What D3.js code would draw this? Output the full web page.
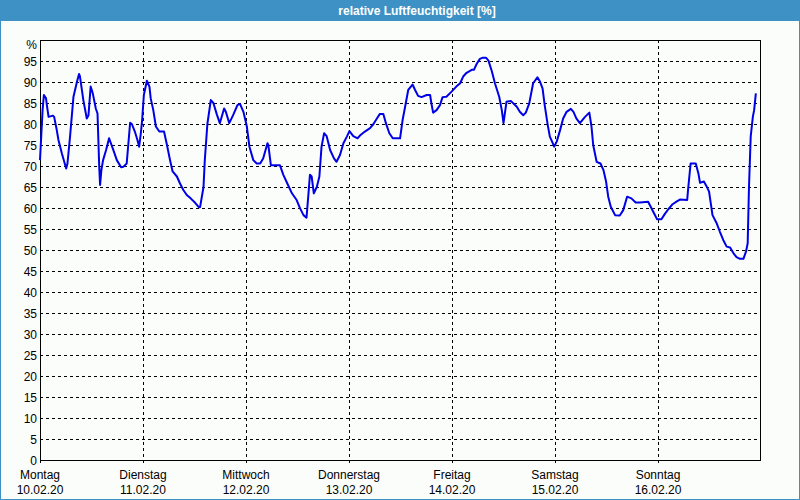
<!DOCTYPE html>
<html><head><meta charset="utf-8">
<script src="https://cdn.jsdelivr.net/npm/d3@7"></script>
<style>html,body{margin:0;padding:0;background:#fff;}svg{display:block;}</style>
</head><body>
<script>
const title = "relative Luftfeuchtigkeit [%]";
const dayNames = ["Montag","Dienstag","Mittwoch","Donnerstag","Freitag","Samstag","Sonntag"];
const dayDates = ["10.02.20","11.02.20","12.02.20","13.02.20","14.02.20","15.02.20","16.02.20"];
const yTicks = d3.range(0, 100, 5);
// hours since Monday 00:00
const hours = [0,0.6,0.9,1.4,1.6,2.0,3.0,3.3,3.9,4.3,5.1,6.1,6.4,7.0,7.8,8.6,9.1,9.3,10.1,10.9,11.3,11.8,12.3,13.0,13.4,13.8,14.0,14.3,14.7,15.4,16.1,17.1,17.9,18.9,19.4,20.2,21.0,21.4,22.1,22.7,23.1,23.5,23.8,24.2,24.9,25.5,25.8,26.4,27.0,27.8,28.9,29.5,30.3,30.9,31.9,32.6,33.4,34.2,35.1,36.1,37.0,37.3,38.1,38.4,39.0,39.8,40.4,41.2,41.9,42.9,43.3,44.1,45.0,46.0,46.6,47.4,48.2,48.8,49.7,50.5,51.3,52.0,53.0,53.2,53.8,55.9,56.7,57.6,58.7,59.8,60.6,61.4,62.1,62.5,62.9,63.3,63.8,64.5,65.1,65.6,66.2,66.8,67.6,68.5,69.1,69.9,70.7,71.5,72.1,73.0,74.0,74.7,75.7,76.9,77.7,78.5,79.2,80.0,80.6,81.4,82.2,83.9,84.5,85.0,85.8,86.8,87.4,88.1,88.9,90.1,90.9,91.2,91.6,92.4,93.2,93.8,94.7,95.9,97.0,97.9,98.6,99.4,100.6,101.1,101.8,102.5,103.2,103.9,104.5,105.3,106.0,107.0,107.6,108.0,108.7,109.7,111.1,111.8,112.6,113.2,114.0,114.9,115.9,116.5,117.1,117.6,118.3,118.8,119.5,119.8,120.4,121.2,121.9,122.7,123.7,124.3,125.0,125.8,127.0,128.0,128.5,128.9,129.7,130.6,131.3,131.9,132.4,133.0,134.0,135.1,135.9,136.8,137.8,138.8,139.8,141.7,142.3,143.1,143.8,144.8,145.6,146.4,147.4,148.3,149.1,150.8,151.0,151.6,152.8,153.4,153.8,154.7,155.3,155.9,156.7,157.7,158.4,159.2,160.0,160.8,161.6,162.3,163.1,163.9,164.5,164.9,165.2,165.6,166.1,166.4,166.8];
const humidity = [71.4,83.3,86.9,86.1,84.5,81.7,82,81.7,78.6,76.2,73,69.4,70.6,77,86.5,90,91.9,91.4,85.7,81.3,82.1,88.9,87.3,83.7,82.5,69.8,65.5,69,71.4,73.8,76.6,73.8,71.4,69.7,69.8,70.6,80.3,80,78.2,76.2,74.6,77.8,81,86.9,90.3,88.9,86.1,83.3,79.4,78.2,78.2,75.4,71.4,68.7,67.5,65.9,64.3,63.1,62.3,61.3,60.2,60.2,65,71.4,80,85.7,85,82.3,80.2,83.7,82.9,80.2,82.1,84.5,84.8,82.9,79.4,74.6,71.4,70.6,70.6,71.8,75.4,75,70.2,70.2,67.9,65.9,63.5,61.9,59.9,58.3,57.7,62.7,67.9,67.5,63.5,65,67.5,74.6,77.8,77.1,73.8,71.8,71,72.6,75.4,77,78.3,77.1,76.6,77.4,78.2,79,80,81.3,82.4,82.4,80.2,77.8,76.6,76.6,81,83.7,88.1,89.4,88.1,86.7,86.4,86.9,86.9,84.9,82.7,83.3,84.5,86.4,86.5,87.7,88.9,89.7,91.3,92.2,92.9,92.9,94.4,95.5,95.8,95.8,95.1,92.5,89.7,86.5,83.3,80.2,85.3,85.5,84.1,82.9,82.1,82.7,84.9,89.7,91.1,90.1,88.5,84.5,79.8,77,75.4,74.6,75.8,78.6,81.3,82.9,83.6,82.9,81.3,80.2,81.7,82.7,79.4,75,71,70.6,69,66.3,62.7,60.3,58.3,58.2,59.5,62.7,62.3,61.3,61.3,61.5,60.3,58.7,57.3,57.3,58.6,59.7,60.9,61.5,62,61.9,64.3,70.6,70.6,68.3,66,66.3,65.2,63.9,58.3,56.3,54.4,52.4,50.8,50.6,49.2,48.3,47.9,47.9,49.6,51.6,65,77,81.7,83.3,87.3];

const W = 800, H = 500;
const svg = d3.select("body").append("svg").attr("width", W).attr("height", H);
const blue = "#3d91c4";
svg.append("rect").attr("x",0).attr("y",0).attr("width",W).attr("height",H).attr("fill",blue);
svg.append("rect").attr("x",1).attr("y",21).attr("width",W-2).attr("height",H-22).attr("fill","#fbfdfb");
svg.append("text").attr("x",417).attr("y",14.5).attr("text-anchor","middle")
  .attr("font-family","'Liberation Sans', Arial, sans-serif").attr("font-size",12).attr("font-weight","bold")
  .attr("fill","#fff").text(title);

const L = 40, R = 761, T = 40, B = 460;
const x = d3.scaleLinear().domain([0, 168]).range([L, R]);
const y = d3.scaleLinear().domain([0, 100]).range([B, T]);
const font = "'Liberation Sans', Arial, sans-serif";

// horizontal grid
const g = svg.append("g");
g.selectAll(".hg").data(yTicks.filter(d => d > 0)).enter().append("line")
  .attr("x1", L).attr("x2", R-1).attr("y1", d => y(d)+0.5).attr("y2", d => y(d)+0.5)
  .attr("stroke","#000").attr("stroke-width",1).attr("stroke-dasharray","3,3");
// vertical grid
g.selectAll(".vg").data(d3.range(1, 7)).enter().append("line")
  .attr("x1", d => Math.round(x(d*24))+0.5).attr("x2", d => Math.round(x(d*24))+0.5)
  .attr("y1", T).attr("y2", B+4)
  .attr("stroke","#000").attr("stroke-width",1).attr("stroke-dasharray","3,3");

// frame
svg.append("rect").attr("x", L+0.5).attr("y", T+0.5).attr("width", R-L-1).attr("height", B-T)
  .attr("fill","none").attr("stroke","#000").attr("stroke-width",1);
svg.append("line").attr("x1",L+0.5).attr("x2",L+0.5).attr("y1",B).attr("y2",B+3).attr("stroke","#000");

// y labels
svg.selectAll(".yl").data(yTicks).enter().append("text")
  .attr("x", 37).attr("y", d => y(d)+4.5).attr("text-anchor","end")
  .attr("font-family",font).attr("font-size",12).attr("fill","#000").text(d => d);
svg.append("text").attr("x",37).attr("y",y(100)+9).attr("text-anchor","end")
  .attr("font-family",font).attr("font-size",12).attr("fill","#000").text("%");

// x labels
const xl = svg.selectAll(".xl").data(d3.range(7)).enter().append("g");
xl.append("text").attr("x", d => x(d*24)).attr("y", 479).attr("text-anchor","middle")
  .attr("font-family",font).attr("font-size",12).attr("fill","#000").text(d => dayNames[d]);
xl.append("text").attr("x", d => x(d*24)).attr("y", 494).attr("text-anchor","middle")
  .attr("font-family",font).attr("font-size",12).attr("fill","#000").text(d => dayDates[d]);

// line
const pts = hours.map((h, i) => [h, humidity[i]]);
svg.append("path").datum(pts)
  .attr("d", d3.line().x(d => x(d[0])).y(d => y(d[1])))
  .attr("fill","none").attr("stroke","#0000e6").attr("stroke-width",2).attr("stroke-linejoin","round");
</script>
</body></html>
